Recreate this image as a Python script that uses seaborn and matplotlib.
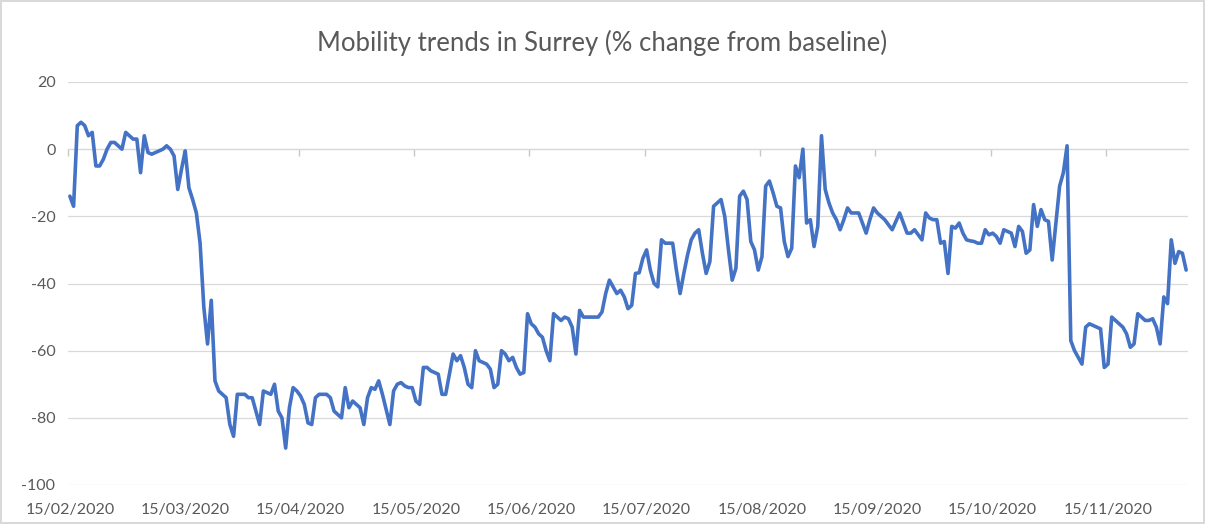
import numpy as np
import pandas as pd
import matplotlib.pyplot as plt
import seaborn as sns

# daily mobility, % change from baseline (Surrey)
mobility = [
    -14, -17, 7, 8, 7, 4, 5, -5, -5, -3,
    0, 2, 2, 1, 0, 5, 4, 3, 3, -7,
    4, -1, -1.5, -1, -0.5, 0, 1, 0, -2, -12,
    -6, -0.5, -11.5, -15, -19, -28, -47, -58, -45, -69,
    -72, -73, -74, -82, -85.5, -73, -73, -73, -74, -74,
    -78, -82, -72, -72.5, -73, -70, -78, -80, -89, -77,
    -71, -72, -73.5, -76, -81.5, -82, -74, -73, -73, -73,
    -74, -78, -79, -80, -71, -77, -75, -76, -77, -82,
    -74, -71, -71.5, -69, -73, -77.5, -82, -72, -70, -69.5,
    -70.5, -71, -71, -75, -76, -65, -65, -66, -66.5, -67,
    -73, -73, -67, -61, -63, -61.5, -65, -70, -71, -60,
    -63, -63.5, -64, -65.5, -71, -70, -60, -61, -63, -62,
    -65, -67, -66.5, -49, -52, -53, -55, -56, -60, -63,
    -49, -50, -51, -50, -50.5, -53, -61, -48, -50, -50,
    -50, -50, -50, -48.5, -43, -39, -41, -43, -42, -44,
    -47.5, -46.5, -37, -36.8, -32.5, -30, -36, -40, -41, -27,
    -28, -28, -28, -36, -43, -37, -31.5, -27, -25, -24,
    -31, -37, -33.5, -17, -16, -15, -20, -30, -39, -35.5,
    -14, -12.5, -15, -27.5, -30, -36, -32, -11, -9.5, -13,
    -17, -17.5, -27.5, -32, -29.5, -5, -8.5, 0, -22, -21,
    -29, -23, 4, -12, -16, -19, -21, -24, -21, -17.5,
    -19, -19, -19, -22, -25, -21, -17.5, -19, -20, -21,
    -22.5, -24, -21.5, -19, -22, -25, -25, -24, -25.5, -27,
    -19, -20.5, -21, -21, -28, -27.5, -37, -23, -23.5, -22,
    -25, -27, -27.3, -27.5, -28, -28, -24, -25.5, -25, -26,
    -28, -24, -24.5, -25, -29, -23, -24.5, -31, -30, -16.5,
    -23, -18, -21, -21.5, -33, -22, -11, -7, 1, -57,
    -60, -62, -64, -53, -52, -52.5, -53, -53.5, -65, -64,
    -50, -51, -52, -53, -55, -59, -58, -49, -50, -51,
    -51, -50.5, -53, -58, -44, -46, -27, -34, -30.5, -31,
    -36,
]

tick_labels = ['15/02/2020', '15/03/2020', '15/04/2020', '15/05/2020',
               '15/06/2020', '15/07/2020', '15/08/2020', '15/09/2020',
               '15/10/2020', '15/11/2020']
label_step = 31  # excel text axis, one label every 31 categories
y_ticks = [20, 0, -20, -40, -60, -80, -100]
title = "Mobility trends in Surrey (% change from baseline)"

sns.set_theme(style="white")
plt.rcParams['font.family'] = ['Lato', 'DejaVu Sans']
plt.rcParams['axes.unicode_minus'] = False

df = pd.DataFrame({'day': np.arange(len(mobility)), 'change': mobility})

fig, ax = plt.subplots(figsize=(12.05, 5.24), dpi=100)
fig.subplots_adjust(left=68/1205, right=1188/1205, top=1-82/524, bottom=1-485/524)
fig.patch.set_edgecolor('#d9d9d9')
fig.patch.set_linewidth(1.5)

sns.lineplot(data=df, x='day', y='change', color='#4472C4', linewidth=2.6,
             ax=ax, zorder=3)

ax.set_xlim(-0.5, len(mobility) - 0.5)
ax.set_ylim(-100, 20)
ax.set_yticks(y_ticks)
ax.yaxis.grid(True, color='#d9d9d9', linewidth=0.9)
ax.xaxis.grid(False)
ax.set_xticks(np.arange(len(tick_labels)) * label_step)
ax.set_xticklabels(tick_labels)
ax.tick_params(axis='x', length=0, pad=13, labelsize=11.5, labelcolor='#595959')
ax.tick_params(axis='y', length=0, pad=9, labelsize=11.5, labelcolor='#595959')
ax.set_xlabel('')
ax.set_ylabel('')
sns.despine(ax=ax, left=True, bottom=True)

# horizontal axis line crosses at 0, with tick marks between categories
sec = ax.secondary_xaxis(100/120)
sec.set_alignment('bottom')
sec.set_xticks(np.arange(len(tick_labels)) * label_step - 0.5)
sec.tick_params(axis='x', length=5, width=1.0, color='#c8c8c8', labelbottom=False)
sec.spines['bottom'].set_color('#d9d9d9')
sec.spines['bottom'].set_linewidth(0.9)

fig.text(0.5, 1 - 43/524, title, ha='center', va='center',
         fontsize=18.5, color='#595959')

fig.savefig('out.png', dpi=100)
